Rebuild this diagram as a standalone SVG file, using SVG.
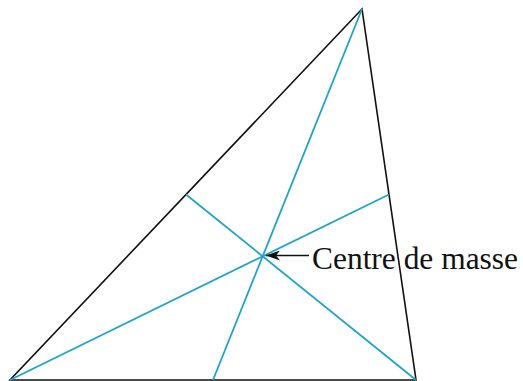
<svg xmlns="http://www.w3.org/2000/svg" width="523" height="381" viewBox="0 0 523 381">
<defs>
<style>
.tri{fill:none;stroke:#111;stroke-width:1.6;stroke-linejoin:miter}
.med{stroke:#21a3c8;stroke-width:1.8;fill:none}
.lbl{font-family:"Liberation Serif","Times New Roman",serif;font-size:32px;fill:#111}
.arr{stroke:#111;stroke-width:1.6;fill:none}
</style>
<marker id="ah" viewBox="0 0 14 10" refX="14" refY="5" markerWidth="14" markerHeight="10" markerUnits="userSpaceOnUse" orient="auto">
<path d="M0,0 L14,5 L0,10 L4,5 Z" fill="#111"/>
</marker>
</defs>
<g id="triangle">
<polygon class="tri" points="362,9 10,380 416,380"/>
</g>
<g id="connectors">
<line class="med" x1="362" y1="9" x2="213" y2="380"/>
<line class="med" x1="10" y1="380" x2="389" y2="194.5"/>
<line class="med" x1="416" y1="380" x2="186" y2="194.5"/>
<line class="arr" x1="309" y1="255.5" x2="266" y2="255.5" marker-end="url(#ah)"/>
</g>
<g id="label">
<text class="lbl" x="312" y="269" textLength="206" lengthAdjust="spacingAndGlyphs">Centre de masse</text>
</g>
</svg>
